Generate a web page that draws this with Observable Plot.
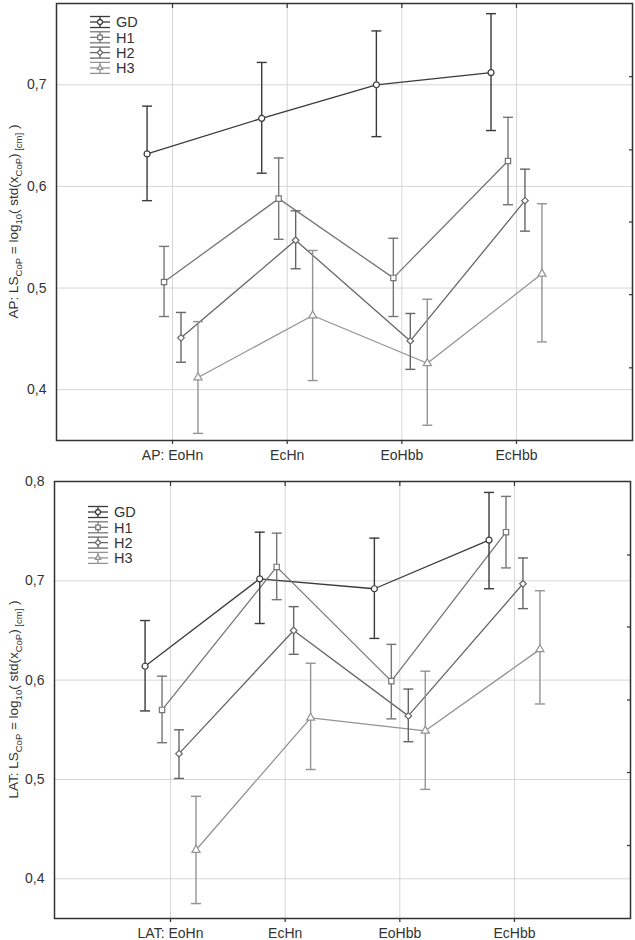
<!DOCTYPE html>
<html>
<head>
<meta charset="utf-8">
<script src="https://cdn.jsdelivr.net/npm/d3@7"></script>
<script src="https://cdn.jsdelivr.net/npm/@observablehq/plot@0.6"></script>
<style>
  html, body { margin: 0; padding: 0; background: #fff; }
  #chart { width: 635px; }
  #chart svg { display: block; }
</style>
</head>
<body>
<div id="chart"></div>
<script>
// ---- data ----
const categories = ["EoHn", "EcHn", "EoHbb", "EcHbb"];
const groups = ["GD", "H1", "H2", "H3"];
const apTickLabels = ["AP: EoHn", "EcHn", "EoHbb", "EcHbb"];
const latTickLabels = ["LAT: EoHn", "EcHn", "EoHbb", "EcHbb"];

// AP panel: means and CI bounds per group (order: EoHn, EcHn, EoHbb, EcHbb)
const apGD  = [0.632, 0.667, 0.700, 0.712];
const apGDlo = [0.586, 0.613, 0.649, 0.655];
const apGDhi = [0.679, 0.722, 0.753, 0.770];
const apH1  = [0.506, 0.588, 0.510, 0.625];
const apH1lo = [0.472, 0.548, 0.472, 0.582];
const apH1hi = [0.541, 0.628, 0.549, 0.668];
const apH2  = [0.451, 0.547, 0.448, 0.586];
const apH2lo = [0.427, 0.519, 0.420, 0.556];
const apH2hi = [0.476, 0.576, 0.475, 0.617];
const apH3  = [0.412, 0.473, 0.426, 0.514];
const apH3lo = [0.357, 0.409, 0.365, 0.447];
const apH3hi = [0.467, 0.537, 0.489, 0.583];

// LAT panel
const latGD  = [0.614, 0.702, 0.692, 0.741];
const latGDlo = [0.569, 0.657, 0.642, 0.692];
const latGDhi = [0.660, 0.749, 0.743, 0.789];
const latH1  = [0.570, 0.714, 0.599, 0.749];
const latH1lo = [0.537, 0.681, 0.561, 0.713];
const latH1hi = [0.604, 0.748, 0.636, 0.785];
const latH2  = [0.526, 0.650, 0.564, 0.697];
const latH2lo = [0.501, 0.626, 0.538, 0.672];
const latH2hi = [0.550, 0.674, 0.591, 0.723];
const latH3  = [0.429, 0.562, 0.549, 0.631];
const latH3lo = [0.375, 0.510, 0.490, 0.576];
const latH3hi = [0.483, 0.617, 0.609, 0.690];

// axis ticks
const apYTicks = [0.4, 0.5, 0.6, 0.7];
const latYTicks = [0.4, 0.5, 0.6, 0.7, 0.8];
const apRightTicks = [0.708, 0.636, 0.565, 0.4935, 0.4215];
const latRightTicks = [0.726, 0.6535, 0.580, 0.507, 0.4335];

// ---- styling ----
const groupColors = ["#3a3a3a", "#767676", "#666666", "#939393"];
const groupSymbols = ["circle", "square", "diamond2", "triangle"];
const groupStep = 0.148;   // horizontal dodge between groups (category units)
const font = "'Liberation Sans', Arial, sans-serif";
const textColor = "#333";

const capSymbol = { draw(ctx) { ctx.moveTo(-5, 0); ctx.lineTo(5, 0); } };
const symMap = { circle: d3.symbolCircle, square: d3.symbolSquare, diamond2: d3.symbolDiamond2, triangle: d3.symbolTriangle2 };

function buildRows(means, lows, highs) {
  const rows = [];
  groups.forEach((g, gi) => {
    categories.forEach((c, ci) => {
      rows.push({ group: g, cat: c, ci, x: ci + (gi - 1.5) * groupStep,
                  mean: means[gi][ci], lo: lows[gi][ci], hi: highs[gi][ci] });
    });
  });
  return rows;
}

function panel({ rows, tickLabels, yDomain, yTicks, rightTicks, margins, prefix, legendPos }) {
  const svg = Plot.plot({
    width: 635,
    height: 470,
    marginLeft: margins[0], marginRight: margins[1], marginTop: margins[2], marginBottom: margins[3],
    style: { fontFamily: font, fontSize: "14px", color: textColor, background: "#fff", overflow: "visible" },
    x: { domain: [-1.012, 4.012] },
    y: { domain: yDomain },
    color: { domain: groups, range: groupColors },
    symbol: { domain: groups, range: groupSymbols },
    marks: [
      Plot.gridX({ ticks: [0, 1, 2, 3], stroke: "#d6d6d6", strokeOpacity: 1, strokeWidth: 1 }),
      Plot.gridY({ ticks: yTicks, stroke: "#d6d6d6", strokeOpacity: 1, strokeWidth: 1 }),
      Plot.axisX({ anchor: "bottom", ticks: [0, 1, 2, 3], tickSize: 4, tickPadding: 6,
                   tickFormat: (i) => tickLabels[i], label: null, stroke: textColor, strokeWidth: 1.2 }),
      Plot.axisX({ anchor: "top", ticks: [0, 1, 2, 3], tickSize: -4, tickFormat: () => "", label: null,
                   stroke: textColor, strokeWidth: 1.2 }),
      Plot.axisY({ anchor: "left", ticks: yTicks, tickSize: 0, tickPadding: 10,
                   tickFormat: (d) => d.toFixed(1).replace(".", ","), label: null }),
      Plot.axisY({ anchor: "right", ticks: rightTicks, tickSize: -4, tickFormat: () => "", label: null,
                   stroke: textColor, strokeWidth: 1.2 }),
      Plot.line(rows, { x: "x", y: "mean", z: "group", stroke: "group", strokeWidth: 1.3 }),
      Plot.ruleX(rows, { x: "x", y1: "lo", y2: "hi", stroke: "group", strokeWidth: 1.4 }),
      Plot.dot(rows, { x: "x", y: "lo", symbol: capSymbol, stroke: "group", strokeWidth: 1.4 }),
      Plot.dot(rows, { x: "x", y: "hi", symbol: capSymbol, stroke: "group", strokeWidth: 1.4 }),
      Plot.dot(rows, { x: "x", y: "mean", symbol: "group", stroke: "group", fill: "#fff", r: 3, strokeWidth: 1.2 }),
      Plot.frame({ stroke: "#333", strokeWidth: 1.5 })
    ]
  });

  const s = d3.select(svg);
  // y-axis label with subscripts
  const top = margins[2], bottom = 470 - margins[3];
  const cy = (top + bottom) / 2;
  const t = s.append("text")
    .attr("transform", `translate(18,${cy}) rotate(-90)`)
    .attr("text-anchor", "middle")
    .attr("fill", textColor)
    .style("font-family", font)
    .style("font-size", "13.5px");
  const parts = [
    [prefix + ": LS", false], ["CoP", true], [" = log", false], ["10", true],
    ["( std(x", false], ["CoP", true], [")", false], [" [cm]", true], [" )", false]
  ];
  let wasSub = false;
  parts.forEach(([txt, sub]) => {
    const ts = t.append("tspan").text(txt);
    if (sub) { ts.style("font-size", "9.5px"); if (!wasSub) ts.attr("dy", 3.5); }
    else if (wasSub) ts.attr("dy", -3.5);
    wasSub = sub;
  });

  // legend
  const lg = s.append("g").attr("transform", `translate(${legendPos[0]},${legendPos[1]})`);
  groups.forEach((g, gi) => {
    const y = gi * 15.3;
    const row = lg.append("g").attr("transform", `translate(0,${y})`)
      .attr("stroke", groupColors[gi]).attr("stroke-width", 1.3).attr("fill", "none");
    row.append("line").attr("x1", -10).attr("x2", 10).attr("y1", -5.5).attr("y2", -5.5);
    row.append("line").attr("x1", -10).attr("x2", 10).attr("y1", 5.5).attr("y2", 5.5);
    row.append("line").attr("x1", -10).attr("x2", 10).attr("y1", 0).attr("y2", 0);
    row.append("line").attr("x1", 0).attr("x2", 0).attr("y1", -5.5).attr("y2", 5.5);
    row.append("path").attr("d", d3.symbol(symMap[groupSymbols[gi]], 20)()).attr("fill", "#fff");
    lg.append("text").attr("x", 16).attr("y", y).attr("dy", "0.36em")
      .attr("text-anchor", "start")
      .attr("fill", textColor).style("font-family", font).style("font-size", "14.5px").text(g);
  });
  return svg;
}

const apRows = buildRows([apGD, apH1, apH2, apH3], [apGDlo, apH1lo, apH2lo, apH3lo], [apGDhi, apH1hi, apH2hi, apH3hi]);
const latRows = buildRows([latGD, latH1, latH2, latH3], [latGDlo, latH1lo, latH2lo, latH3lo], [latGDhi, latH1hi, latH2hi, latH3hi]);

const chart = document.getElementById("chart");
chart.appendChild(panel({
  rows: apRows, tickLabels: apTickLabels, yDomain: [0.35, 0.78], yTicks: apYTicks,
  rightTicks: apRightTicks, margins: [56, 3, 3, 30], prefix: "AP", legendPos: [100, 22]
}));
chart.appendChild(panel({
  rows: latRows, tickLabels: latTickLabels, yDomain: [0.36, 0.8], yTicks: latYTicks,
  rightTicks: latRightTicks, margins: [54, 5, 11, 22], prefix: "LAT", legendPos: [98, 42]
}));
</script>
</body>
</html>
